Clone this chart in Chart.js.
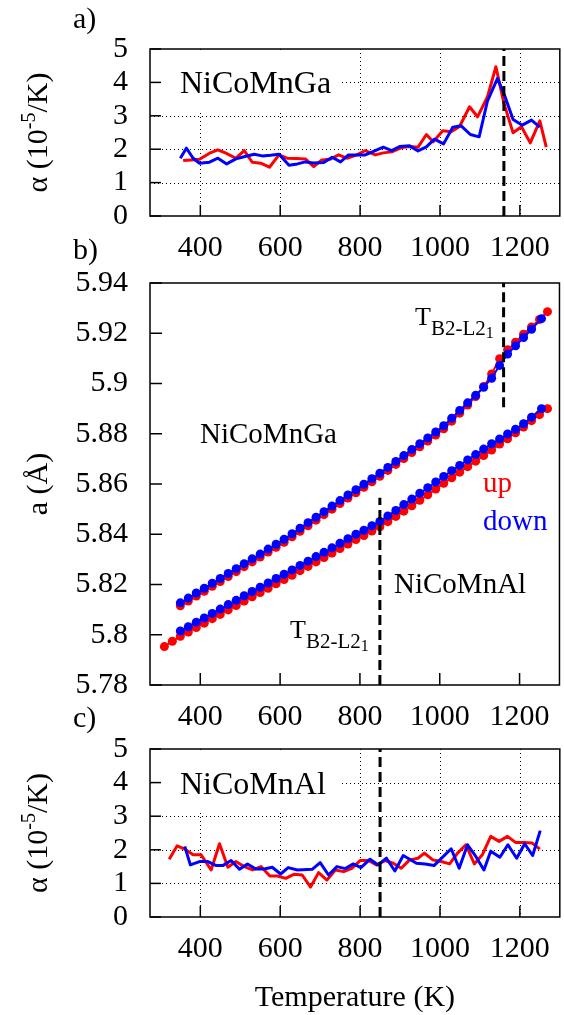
<!DOCTYPE html>
<html>
<head>
<meta charset="utf-8">
<script src="https://cdn.jsdelivr.net/npm/chart.js@4/dist/chart.umd.min.js"></script>
<style>
  body { margin: 0; background: #fff; }
  #wrap { position: relative; width: 564px; height: 1015px; }
  #wrap canvas { position: absolute; left: 0; top: 0; }
</style>
</head>
<body>
<div id="wrap">
  <canvas id="panelA" width="564" height="1015"></canvas>
  <canvas id="panelB" width="564" height="1015"></canvas>
  <canvas id="panelC" width="564" height="1015"></canvas>
</div>
<script>
// shared axes
const xRange = [274, 1300];
const xTicks = [400, 600, 800, 1000, 1200];
const alphaTicks = [0, 1, 2, 3, 4, 5];
const latticeTicks = [5.78, 5.80, 5.82, 5.84, 5.86, 5.88, 5.90, 5.92, 5.94];

// transition temperatures T(B2-L2_1)
const transGa = 1160;
const transAl = 850;

// a) NiCoMnGa thermal expansion, 10^-5/K
const gaAlphaUpT = [357, 378, 398, 423, 444, 464, 489, 510, 530, 551, 573, 597, 617, 640, 663, 684, 704, 725, 746, 767, 792, 813, 838, 858, 879, 904, 924, 945, 966, 983, 1007, 1028, 1049, 1074, 1094, 1119, 1140, 1160, 1183, 1204, 1226, 1250, 1266];
const gaAlphaUp = [1.66, 1.68, 1.70, 1.88, 1.98, 1.88, 1.73, 1.96, 1.61, 1.58, 1.46, 1.83, 1.73, 1.72, 1.71, 1.48, 1.68, 1.70, 1.83, 1.73, 1.83, 1.96, 1.83, 1.89, 1.92, 2.05, 2.08, 2.06, 2.44, 2.22, 2.55, 2.52, 2.68, 3.27, 2.97, 3.57, 4.47, 3.38, 2.49, 2.67, 2.19, 2.85, 2.06];
const gaAlphaDownT = [350, 365, 382, 398, 423, 444, 466, 489, 512, 535, 555, 576, 597, 622, 643, 663, 684, 709, 730, 751, 771, 792, 813, 838, 858, 879, 899, 924, 945, 966, 986, 1009, 1032, 1053, 1076, 1098, 1119, 1144, 1162, 1183, 1206, 1229, 1250];
const gaAlphaDown = [1.73, 2.03, 1.73, 1.58, 1.61, 1.73, 1.56, 1.71, 1.78, 1.85, 1.80, 1.82, 1.85, 1.52, 1.56, 1.62, 1.59, 1.60, 1.76, 1.62, 1.83, 1.83, 1.83, 1.96, 2.06, 1.96, 2.08, 2.10, 1.95, 2.07, 2.30, 2.16, 2.66, 2.70, 2.44, 2.37, 3.45, 4.12, 3.60, 2.89, 2.72, 2.87, 2.66];

// b) lattice parameter, Angstrom
const gaLatUpT = [350, 370, 390, 410, 430, 450, 470, 490, 510, 530, 550, 570, 590, 610, 630, 650, 670, 690, 710, 730, 750, 770, 790, 810, 830, 850, 870, 890, 910, 930, 950, 970, 990, 1010, 1030, 1050, 1070, 1090, 1110, 1130, 1150, 1170, 1190, 1210, 1230, 1250, 1270];
const gaLatUp = [5.8115, 5.8134, 5.8154, 5.8173, 5.8193, 5.8212, 5.8232, 5.8251, 5.8271, 5.8290, 5.8309, 5.8329, 5.8348, 5.8368, 5.8390, 5.8412, 5.8434, 5.8456, 5.8478, 5.8500, 5.8522, 5.8544, 5.8565, 5.8587, 5.8609, 5.8631, 5.8654, 5.8678, 5.8701, 5.8725, 5.8748, 5.8771, 5.8795, 5.8820, 5.8850, 5.8882, 5.8914, 5.8948, 5.8988, 5.9038, 5.9099, 5.9134, 5.9164, 5.9196, 5.9225, 5.9255, 5.9286];
const gaLatDownT = [350, 370, 390, 410, 430, 450, 470, 490, 510, 530, 550, 570, 590, 610, 630, 650, 670, 690, 710, 730, 750, 770, 790, 810, 830, 850, 870, 890, 910, 930, 950, 970, 990, 1010, 1030, 1050, 1070, 1090, 1110, 1130, 1150, 1170, 1190, 1210, 1230, 1255];
const gaLatDown = [5.8127, 5.8146, 5.8166, 5.8185, 5.8205, 5.8224, 5.8244, 5.8263, 5.8283, 5.8302, 5.8321, 5.8341, 5.8360, 5.8380, 5.8402, 5.8424, 5.8446, 5.8468, 5.8490, 5.8512, 5.8534, 5.8556, 5.8577, 5.8599, 5.8621, 5.8643, 5.8666, 5.8690, 5.8713, 5.8737, 5.8760, 5.8783, 5.8807, 5.8832, 5.8862, 5.8893, 5.8923, 5.8953, 5.8985, 5.9021, 5.9072, 5.9117, 5.9150, 5.9183, 5.9216, 5.9258];
const alLatUpT = [310, 330, 350, 370, 390, 410, 430, 450, 470, 490, 510, 530, 550, 570, 590, 610, 630, 650, 670, 690, 710, 730, 750, 770, 790, 810, 830, 850, 870, 890, 910, 930, 950, 970, 990, 1010, 1030, 1050, 1070, 1090, 1110, 1130, 1150, 1170, 1190, 1210, 1230, 1250, 1270];
const alLatUp = [5.7953, 5.7974, 5.7994, 5.8011, 5.8029, 5.8046, 5.8064, 5.8081, 5.8099, 5.8116, 5.8134, 5.8151, 5.8168, 5.8185, 5.8203, 5.8220, 5.8237, 5.8255, 5.8272, 5.8290, 5.8307, 5.8325, 5.8343, 5.8361, 5.8379, 5.8395, 5.8413, 5.8430, 5.8450, 5.8471, 5.8492, 5.8513, 5.8535, 5.8557, 5.8580, 5.8603, 5.8625, 5.8647, 5.8669, 5.8691, 5.8713, 5.8735, 5.8759, 5.8780, 5.8804, 5.8827, 5.8852, 5.8876, 5.8900];
const alLatDownT = [350, 370, 390, 410, 430, 450, 470, 490, 510, 530, 550, 570, 590, 610, 630, 650, 670, 690, 710, 730, 750, 770, 790, 810, 830, 850, 870, 890, 910, 930, 950, 970, 990, 1010, 1030, 1050, 1070, 1090, 1110, 1130, 1150, 1170, 1190, 1210, 1230, 1255];
const alLatDown = [5.8015, 5.8032, 5.8050, 5.8067, 5.8085, 5.8102, 5.8120, 5.8137, 5.8155, 5.8172, 5.8189, 5.8206, 5.8224, 5.8241, 5.8258, 5.8276, 5.8293, 5.8311, 5.8328, 5.8346, 5.8364, 5.8382, 5.8400, 5.8416, 5.8434, 5.8451, 5.8473, 5.8495, 5.8518, 5.8540, 5.8563, 5.8585, 5.8608, 5.8630, 5.8653, 5.8674, 5.8696, 5.8717, 5.8739, 5.8760, 5.8779, 5.8799, 5.8818, 5.8840, 5.8866, 5.8900];

// c) NiCoMnAl thermal expansion, 10^-5/K
const alAlphaUpT = [322, 342, 361, 382, 402, 427, 448, 469, 489, 510, 531, 552, 574, 593, 614, 634, 655, 676, 696, 717, 738, 759, 779, 800, 821, 841, 862, 883, 903, 924, 945, 961, 982, 1003, 1024, 1044, 1065, 1086, 1106, 1127, 1148, 1169, 1189, 1210, 1231, 1250];
const alAlphaUp = [1.72, 2.12, 2.02, 1.85, 1.85, 1.40, 2.18, 1.48, 1.65, 1.50, 1.40, 1.50, 1.22, 1.22, 1.15, 1.27, 1.25, 0.89, 1.32, 1.10, 1.40, 1.35, 1.45, 1.68, 1.68, 1.55, 1.68, 1.60, 1.45, 1.70, 1.75, 1.90, 1.70, 1.65, 1.58, 1.90, 2.15, 1.58, 1.85, 2.40, 2.25, 2.40, 2.22, 2.22, 2.20, 2.02];
const alAlphaDownT = [361, 375, 398, 419, 440, 456, 477, 498, 518, 539, 560, 580, 601, 620, 643, 680, 700, 721, 742, 763, 783, 802, 825, 845, 866, 887, 908, 941, 963, 985, 1028, 1048, 1069, 1087, 1110, 1127, 1150, 1170, 1192, 1212, 1232, 1251];
const alAlphaDown = [2.10, 1.55, 1.65, 1.65, 1.53, 1.53, 1.68, 1.42, 1.58, 1.43, 1.43, 1.48, 1.28, 1.47, 1.40, 1.42, 1.62, 1.25, 1.50, 1.44, 1.58, 1.47, 1.72, 1.55, 1.75, 1.37, 1.83, 1.60, 1.58, 1.53, 2.03, 1.45, 2.15, 1.85, 1.40, 1.96, 1.78, 2.15, 1.75, 2.18, 1.83, 2.57];

const SERIF = "'Liberation Serif', 'DejaVu Serif', serif";
const RED = '#ff0000', BLUE = '#0000ff';
const PAGE_H = 1015, XAXIS_H = 60;

Chart.defaults.font.family = SERIF;
Chart.defaults.color = '#000';

function pts(xs, ys) {
  return xs.map(function(x, i) { return {x: x, y: ys[i]}; });
}

function alphaLine(xs, ys, color, order) {
  return {data: pts(xs, ys), showLine: true, borderColor: color, borderWidth: 3,
    borderJoinStyle: 'round', pointRadius: 0, order: order};
}

function dotLine(xs, ys, color, order) {
  return {data: pts(xs, ys), showLine: true, borderColor: color, borderWidth: 2,
    pointRadius: 4.5, pointBorderWidth: 0, pointBackgroundColor: color, order: order};
}

function dashed(x, y0, y1) {
  return {data: [{x: x, y: y0}, {x: x, y: y1}], showLine: true, borderColor: '#000',
    borderWidth: 3, borderDash: [10, 5], pointRadius: 0, order: 0};
}

function font(size) { return size + 'px ' + SERIF; }

// draws text pieces one after another (for sub/superscripts)
function rich(ctx, x, y, parts) {
  parts.forEach(function(p) {
    ctx.font = font(p.size);
    ctx.fillStyle = p.color || '#000';
    ctx.fillText(p.t, x, y + (p.dy || 0));
    x += ctx.measureText(p.t).width;
  });
}

function richVertical(ctx, cx, cy, parts) {
  let w = 0;
  parts.forEach(function(p) { ctx.font = font(p.size); w += ctx.measureText(p.t).width; });
  ctx.save();
  ctx.translate(cx, cy);
  ctx.rotate(-Math.PI / 2);
  rich(ctx, -w / 2, 0, parts);
  ctx.restore();
}

function seg(ctx, x0, y0, x1, y1) {
  ctx.beginPath(); ctx.moveTo(x0, y0); ctx.lineTo(x1, y1); ctx.stroke();
}

const panelPlugin = {
  id: 'panel',
  beforeDatasetsDraw: function(chart, args, o) {
    const ctx = chart.ctx, a = chart.chartArea;
    const sx = chart.scales.x, sy = chart.scales.y;
    ctx.save();
    if (o.grid) {
      ctx.strokeStyle = '#000';
      ctx.lineWidth = 1;
      ctx.setLineDash([1, 3]);
      xTicks.forEach(function(v) {
        const px = Math.round(sx.getPixelForValue(v)) + 0.5;
        seg(ctx, px, a.top, px, a.bottom);
      });
      o.gridY.forEach(function(v) {
        const py = Math.round(sy.getPixelForValue(v)) + 0.5;
        seg(ctx, a.left, py, a.right, py);
      });
      ctx.setLineDash([]);
      // the key box covers the grid behind the sample name
      ctx.fillStyle = '#fff';
      ctx.fillRect(a.left + 1, a.top + 1, o.keyBox[0], o.keyBox[1]);
    }
    ctx.textBaseline = 'alphabetic';
    ctx.textAlign = 'left';
    (o.texts || []).forEach(function(t) {
      rich(ctx, a.left + t.x, a.top + t.y, t.parts);
    });
    ctx.restore();
  },
  afterDatasetsDraw: function(chart, args, o) {
    const ctx = chart.ctx, a = chart.chartArea;
    const sx = chart.scales.x, sy = chart.scales.y;
    ctx.save();
    ctx.strokeStyle = '#000';
    ctx.lineWidth = 1.5;
    // inward tics
    xTicks.forEach(function(v) {
      const px = sx.getPixelForValue(v);
      seg(ctx, px, a.bottom, px, a.bottom - o.ticLen);
    });
    o.ticksY.forEach(function(v) {
      const py = sy.getPixelForValue(v);
      seg(ctx, a.left, py, a.left + o.ticLen, py);
    });
    ctx.strokeRect(a.left, a.top, a.right - a.left, a.bottom - a.top);
    ctx.textBaseline = 'alphabetic';
    ctx.textAlign = 'left';
    ctx.fillStyle = '#000';
    ctx.font = font(30);
    ctx.fillText(o.tag, 73, o.tagY);
    richVertical(ctx, 47, (a.top + a.bottom) / 2, o.yTitle);
    if (o.xTitle) {
      ctx.textAlign = 'center';
      ctx.font = font(30);
      ctx.fillText(o.xTitle, (a.left + a.right) / 2, o.xTitleY);
    }
    ctx.restore();
  }
};

function makePanel(id, top, bottom, yMin, yMax, yTicks, fmt, datasets, panelOpts) {
  return new Chart(document.getElementById(id), {
    type: 'scatter',
    data: {datasets: datasets},
    options: {
      responsive: false,
      animation: false,
      events: [],
      layout: {padding: {left: 0, right: 1.3, top: top, bottom: PAGE_H - bottom - XAXIS_H}},
      plugins: {legend: {display: false}, tooltip: {enabled: false}, panel: panelOpts},
      scales: {
        x: {
          type: 'linear', min: xRange[0], max: xRange[1],
          afterBuildTicks: function(s) { s.ticks = xTicks.map(function(v) { return {value: v}; }); },
          afterFit: function(s) { s.height = XAXIS_H; },
          grid: {display: false, drawTicks: false}, border: {display: false},
          ticks: {autoSkip: false, maxRotation: 0, padding: 14, font: {size: 30},
            callback: function(v) { return String(v); }}
        },
        y: {
          type: 'linear', min: yMin, max: yMax,
          afterBuildTicks: function(s) { s.ticks = yTicks.map(function(v) { return {value: v}; }); },
          afterFit: function(s) { s.width = 150; },
          grid: {display: false, drawTicks: false}, border: {display: false},
          ticks: {autoSkip: false, padding: 22, font: {size: 30}, callback: fmt}
        }
      }
    },
    plugins: [panelPlugin]
  });
}

const alphaTitle = [
  {t: '\u03b1 (10', size: 30},
  {t: '-5', size: 20, dy: -12},
  {t: '/K)', size: 30}
];
const plainNum = function(v) { return String(v); };

makePanel('panelA', 49, 216, 0, 5, alphaTicks, plainNum, [
  dashed(transGa, 0, 5),
  alphaLine(gaAlphaDownT, gaAlphaDown, BLUE, 1),
  alphaLine(gaAlphaUpT, gaAlphaUp, RED, 2)
], {
  grid: true, gridY: [1, 2, 3, 4], keyBox: [191, 62], ticLen: 11, ticksY: alphaTicks,
  tag: 'a)', tagY: 28, yTitle: alphaTitle,
  texts: [{x: 30, y: 44, parts: [{t: 'NiCoMnGa', size: 32}]}]
});

makePanel('panelB', 283, 685, 5.78, 5.94, latticeTicks,
  function(v) { return String(+v.toFixed(2)); }, [
  dashed(transGa, 5.8905, 5.94),
  dashed(transAl, 5.78, 5.8545),
  dotLine(gaLatDownT, gaLatDown, BLUE, 1),
  dotLine(alLatDownT, alLatDown, BLUE, 1),
  dotLine(gaLatUpT, gaLatUp, RED, 2),
  dotLine(alLatUpT, alLatUp, RED, 2)
], {
  grid: false, ticLen: 12, ticksY: latticeTicks,
  tag: 'b)', tagY: 259, yTitle: [{t: 'a (\u00c5)', size: 30}],
  texts: [
    {x: 50, y: 160, parts: [{t: 'NiCoMnGa', size: 29}]},
    {x: 244, y: 310, parts: [{t: 'NiCoMnAl', size: 29}]},
    {x: 333, y: 209, parts: [{t: 'up', size: 29, color: RED}]},
    {x: 333, y: 247, parts: [{t: 'down', size: 29, color: BLUE}]},
    {x: 265, y: 42, parts: [{t: 'T', size: 26}, {t: 'B2-L2', size: 21, dy: 10}, {t: '1', size: 16, dy: 13}]},
    {x: 140, y: 355, parts: [{t: 'T', size: 26}, {t: 'B2-L2', size: 21, dy: 10}, {t: '1', size: 16, dy: 13}]}
  ]
});

makePanel('panelC', 749, 917, 0, 5, alphaTicks, plainNum, [
  dashed(transAl, 0, 5),
  alphaLine(alAlphaDownT, alAlphaDown, BLUE, 1),
  alphaLine(alAlphaUpT, alAlphaUp, RED, 2)
], {
  grid: true, gridY: [1, 2, 3, 4], keyBox: [191, 61], ticLen: 11, ticksY: alphaTicks,
  tag: 'c)', tagY: 727, yTitle: alphaTitle,
  xTitle: 'Temperature (K)', xTitleY: 1006,
  texts: [{x: 30, y: 45, parts: [{t: 'NiCoMnAl', size: 32}]}]
});
</script>
</body>
</html>
